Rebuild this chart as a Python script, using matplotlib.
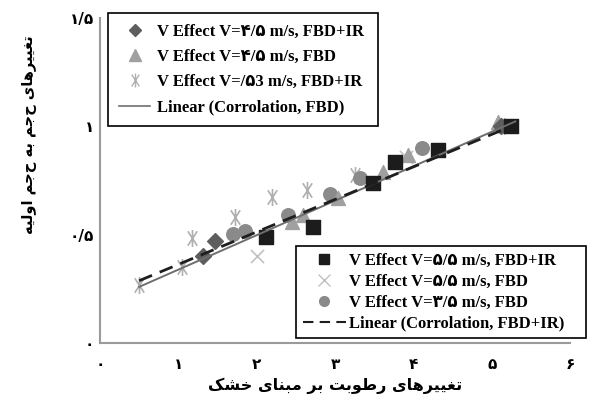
import numpy as np
import matplotlib.pyplot as plt
from matplotlib.lines import Line2D
from matplotlib.path import Path

# --- Daten ---
sq_x = [2.12, 2.72, 3.48, 3.77, 4.32, 5.24]          # V=5.5 FBD+IR
sq_y = [0.49, 0.535, 0.74, 0.835, 0.89, 1.0]
dia_x = [1.32, 1.47, 5.12]                           # V=4.5 FBD+IR
dia_y = [0.40, 0.47, 1.0]
tri_x = [2.45, 2.59, 3.04, 3.61, 3.93, 5.08]         # V=4.5 FBD
tri_y = [0.56, 0.59, 0.67, 0.79, 0.87, 1.02]
ast_x = [0.5, 1.05, 1.18, 1.72, 2.2, 2.64, 3.26, 5.15]  # V=.53 FBD+IR
ast_y = [0.27, 0.35, 0.485, 0.58, 0.675, 0.705, 0.775, 1.0]
xm_x = [2.0, 3.9, 5.15]                              # V=5.5 FBD
xm_y = [0.40, 0.86, 1.0]
cir_x = [1.70, 1.85, 2.40, 2.94, 3.32, 4.11, 5.12]   # V=3.5 FBD
cir_y = [0.505, 0.515, 0.59, 0.69, 0.76, 0.90, 1.0]

# Trendlinien: (Steigung, Achsenabschnitt, x-Start, x-Ende)
fit_fbd = [0.159, 0.18, 0.5, 5.3]
fit_fbd_ir = [0.150, 0.213, 0.5, 5.2]

x_ticks = [0, 1, 2, 3, 4, 5, 6]
x_ticklabels = ["۰", "۱", "۲", "۳", "۴", "۵", "۶"]
y_ticks = [0, 0.5, 1, 1.5]
y_ticklabels = ["۰", "۰/۵", "۱", "۱/۵"]

xlabel = "تغییرهای رطوبت بر مبنای خشک"
ylabel = "تغییرهای حجم به حجم اولیه"

leg1 = ["V Effect V=۴/۵ m/s, FBD+IR", "V Effect V=۴/۵ m/s, FBD",
        "V Effect V=/۵3 m/s, FBD+IR", "Linear (Corrolation, FBD)"]
leg2 = ["V Effect V=۵/۵ m/s, FBD+IR", "V Effect V=۵/۵ m/s, FBD",
        "V Effect V=۳/۵ m/s, FBD", "Linear (Corrolation, FBD+IR)"]

# --- einfache Formung fuer persische Schrift (Praesentationsformen + RTL) ---
FORMS = {  # iso, fin, ini, med
    "ا": ("\ufe8d", "\ufe8e", None, None),
    "ب": ("\ufe8f", "\ufe90", "\ufe91", "\ufe92"),
    "ت": ("\ufe95", "\ufe96", "\ufe97", "\ufe98"),
    "ج": ("\ufe9d", "\ufe9e", "\ufe9f", "\ufea0"),
    "خ": ("\ufea5", "\ufea6", "\ufea7", "\ufea8"),
    "ر": ("\ufead", "\ufeae", None, None),
    "ش": ("\ufeb5", "\ufeb6", "\ufeb7", "\ufeb8"),
    "ط": ("\ufec1", "\ufec2", "\ufec3", "\ufec4"),
    "غ": ("\ufecd", "\ufece", "\ufecf", "\ufed0"),
    "ل": ("\ufedd", "\ufede", "\ufedf", "\ufee0"),
    "م": ("\ufee1", "\ufee2", "\ufee3", "\ufee4"),
    "ن": ("\ufee5", "\ufee6", "\ufee7", "\ufee8"),
    "ه": ("\ufee9", "\ufeea", "\ufeeb", "\ufeec"),
    "و": ("\ufeed", "\ufeee", None, None),
    "ی": ("\ufbfc", "\ufbfd", "\ufbfe", "\ufbff"),
    "ک": ("\ufb8e", "\ufb8f", "\ufb90", "\ufb91"),
}


def shape(s):
    out = []
    for i, c in enumerate(s):
        if c not in FORMS:
            out.append(c)
            continue
        prev = s[i - 1] if i > 0 else ""
        nxt = s[i + 1] if i + 1 < len(s) else ""
        jp = prev in FORMS and FORMS[prev][2] is not None
        jn = FORMS[c][2] is not None and nxt in FORMS
        iso, fin, ini, med = FORMS[c]
        if jp and jn:
            out.append(med)
        elif jp:
            out.append(fin)
        elif jn:
            out.append(ini)
        else:
            out.append(iso)
    return "".join(out)[::-1]


# Sternchen-Marker wie in Excel (X mit senkrechtem Strich)
star = Path([(0, -1), (0, 1), (-0.55, -0.85), (0.55, 0.85), (-0.55, 0.85), (0.55, -0.85)],
            [Path.MOVETO, Path.LINETO] * 3)

fa_font = ["DejaVu Sans"]
lat_font = ["Liberation Serif", "DejaVu Sans"]

fig = plt.figure(figsize=(5.97, 4.08), dpi=100)
ax = fig.add_axes([0.1675, 0.159, 0.7875, 0.797])

c_sq, c_dia, c_tri, c_ast, c_x, c_cir = "#1c1c1c", "#5e5e5e", "#a0a0a0", "#b0b0b0", "#c0c0c0", "#8a8a8a"

xs = np.array(fit_fbd[2:])
ax.plot(xs, fit_fbd[0] * xs + fit_fbd[1], color="#6e6e6e", lw=1.4, zorder=4)
xs = np.array(fit_fbd_ir[2:])
ax.plot(xs, fit_fbd_ir[0] * xs + fit_fbd_ir[1], color="#1e1e1e", lw=2.0,
        ls=(0, (5, 3)), zorder=4)

ax.scatter(ast_x, ast_y, marker=star, s=150, color=c_ast, lw=1.2, zorder=2)
ax.scatter(xm_x, xm_y, marker="x", s=90, color=c_x, lw=1.2, zorder=2)
ax.scatter(cir_x, cir_y, marker="o", s=95, color=c_cir, zorder=3)
ax.scatter(tri_x, tri_y, marker="^", s=100, color=c_tri, zorder=3)
ax.scatter(dia_x, dia_y, marker="D", s=65, color=c_dia, zorder=3)
ax.scatter(sq_x, sq_y, marker="s", s=110, color=c_sq, zorder=3)

ax.set_xlim(0, 6)
ax.set_ylim(0, 1.5)
ax.set_xticks(x_ticks)
ax.set_xticklabels(x_ticklabels, fontweight="bold", fontsize=11, family=fa_font)
ax.set_yticks(y_ticks)
ax.set_yticklabels(y_ticklabels, fontweight="bold", fontsize=11, family=fa_font)
ax.tick_params(axis="x", length=0, pad=10)
ax.tick_params(axis="y", length=0, pad=4)
for s in ["top", "right"]:
    ax.spines[s].set_visible(False)
for s in ["left", "bottom"]:
    ax.spines[s].set_color("#9a9a9a")
    ax.spines[s].set_linewidth(1.5)

ax.set_xlabel(shape(xlabel), fontweight="bold", fontsize=11.5, family=fa_font, labelpad=4)
ax.set_ylabel(shape(ylabel), fontweight="bold", fontsize=10.5, family=fa_font)
ax.yaxis.set_label_coords(-0.135, 0.64)

h1 = [Line2D([], [], ls="", marker="D", ms=6, color=c_dia),
      Line2D([], [], ls="", marker="^", ms=8, color=c_tri),
      Line2D([], [], ls="", marker=star, ms=10, color=c_ast, mew=1),
      Line2D([], [], color="#6e6e6e", lw=1.2)]
h2 = [Line2D([], [], ls="", marker="s", ms=7, color=c_sq),
      Line2D([], [], ls="", marker="x", ms=8, color=c_x, mew=1),
      Line2D([], [], ls="", marker="o", ms=7, color=c_cir),
      Line2D([], [], color="#1e1e1e", lw=1.5, ls=(0, (5, 3)))]

lp = dict(family=lat_font, weight="bold", size=12)
l1 = ax.legend(h1, leg1, loc="upper left", bbox_to_anchor=(0.017, 0.68, 0.574, 0.335),
               mode="expand", prop=lp, frameon=True, fancybox=False, edgecolor="black",
               framealpha=1, handlelength=1.9, handletextpad=0.4, labelspacing=0.55,
               borderaxespad=0, borderpad=0.65)
l1.get_frame().set_linewidth(1.2)
ax.add_artist(l1)
l2 = ax.legend(h2, leg2, loc="lower left", bbox_to_anchor=(0.417, 0.015, 0.617, 0.3),
               mode="expand", prop=lp, frameon=True, fancybox=False, edgecolor="black",
               framealpha=1, handlelength=2.6, handletextpad=0.2, labelspacing=0.3,
               borderaxespad=0, borderpad=0.4)
l2.get_frame().set_linewidth(1.2)

fig.savefig("out.png", dpi=100)
